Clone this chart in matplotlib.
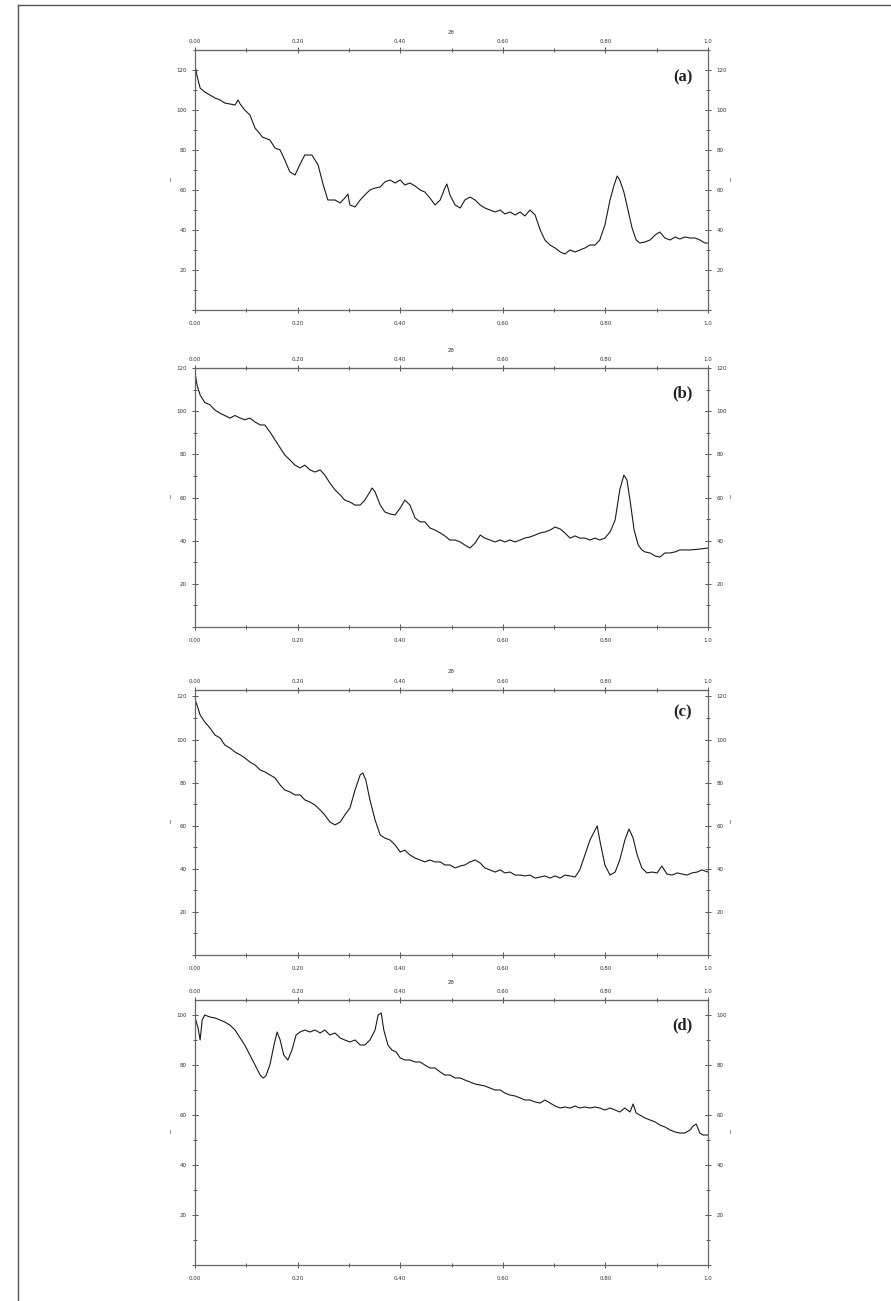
import matplotlib
matplotlib.use('Agg')
import matplotlib.pyplot as plt
from matplotlib.lines import Line2D

# values (x is 0..1, y in counts)
x_a = [0.000, 0.004, 0.010, 0.019, 0.029, 0.039, 0.049, 0.058, 0.068, 0.078, 0.084, 0.088, 0.097,
       0.107, 0.117, 0.127, 0.131, 0.146, 0.156, 0.166, 0.175, 0.185, 0.195, 0.205, 0.214, 0.228,
       0.240, 0.250, 0.259, 0.273, 0.283, 0.292, 0.298, 0.302, 0.312, 0.322, 0.331, 0.341, 0.351,
       0.361, 0.370, 0.380, 0.390, 0.400, 0.409, 0.419, 0.429, 0.439, 0.448, 0.458, 0.468, 0.478,
       0.487, 0.491, 0.497, 0.507, 0.517, 0.526, 0.536, 0.546, 0.556, 0.565, 0.575, 0.585, 0.595,
       0.604, 0.614, 0.624, 0.634, 0.643, 0.653, 0.663, 0.673, 0.682, 0.692, 0.702, 0.712, 0.721,
       0.731, 0.741, 0.750, 0.760, 0.770, 0.780, 0.789, 0.799, 0.809, 0.817, 0.823, 0.828, 0.836,
       0.844, 0.852, 0.860, 0.867, 0.877, 0.887, 0.897, 0.906, 0.916, 0.926, 0.936, 0.945, 0.955,
       0.965, 0.975, 0.984, 0.994, 1.000]
y_a = [122.5, 117, 111, 109, 107.5, 106, 105, 103.5, 103, 102.5, 105, 103, 100,
       97.5, 91, 88, 86.5, 85, 81, 80, 75, 69, 67.5, 73, 77.5, 77.5,
       72.5, 62.5, 55, 55, 53.5, 56, 58, 52.5, 51.5, 55, 57.5, 60, 61,
       61.5, 64, 65, 63.5, 65, 62.5, 63.5, 62, 60, 59, 56, 52.5, 55,
       61, 63, 57.5, 52.5, 51, 55, 56.5, 55, 52.5, 51, 50, 49, 50,
       48, 49, 47.5, 49, 47, 50, 47.5, 40, 35, 32.5, 31, 29, 28,
       30, 29, 30, 31, 32.5, 32.5, 35, 42.5, 55, 62.5, 67, 65, 59,
       50, 41, 35, 33.5, 34, 35, 37.5, 39, 36, 35, 36.5, 35.5, 36.5,
       36, 36, 35, 33.5, 33.5]

x_b = [0.000, 0.004, 0.010, 0.019, 0.029, 0.039, 0.049, 0.058, 0.068, 0.078, 0.088, 0.097, 0.107,
       0.117, 0.127, 0.136, 0.146, 0.156, 0.166, 0.175, 0.185, 0.195, 0.205, 0.214, 0.224, 0.234,
       0.244, 0.253, 0.263, 0.273, 0.283, 0.292, 0.302, 0.312, 0.322, 0.331, 0.341, 0.345, 0.351,
       0.361, 0.370, 0.380, 0.390, 0.400, 0.409, 0.419, 0.429, 0.439, 0.448, 0.458, 0.468, 0.478,
       0.487, 0.497, 0.507, 0.517, 0.526, 0.536, 0.546, 0.556, 0.565, 0.575, 0.585, 0.595, 0.604,
       0.614, 0.624, 0.634, 0.643, 0.653, 0.663, 0.673, 0.682, 0.692, 0.702, 0.712, 0.721, 0.731,
       0.741, 0.750, 0.760, 0.770, 0.780, 0.789, 0.799, 0.809, 0.819, 0.828, 0.836, 0.842, 0.848,
       0.856, 0.864, 0.871, 0.877, 0.887, 0.897, 0.906, 0.916, 0.926, 0.936, 0.945, 0.965, 0.984,
       1.000]
y_b = [118, 112, 107.5, 104, 103, 100.5, 99, 98, 96.8, 98, 96.8, 96, 96.8,
       95, 93.6, 93.6, 90.4, 86.7, 83, 79.7, 77.4, 75, 73.7, 75, 72.8, 71.8,
       72.8, 70.4, 66.7, 63.5, 61.2, 58.8, 57.9, 56.5, 56.5, 58.8, 62.6, 64.4, 62.6,
       56.5, 53.3, 52.4, 51.9, 55.1, 58.8, 56.5, 50.5, 48.7, 48.7, 45.9, 44.9, 43.6,
       42.2, 40.3, 40.3, 39.4, 38, 36.6, 38.9, 42.6, 41.2, 40.3, 39.4, 40.3, 39.4,
       40.3, 39.4, 40.3, 41.2, 41.7, 42.6, 43.6, 44, 44.9, 46.3, 45.4, 43.6, 41.2,
       42.2, 41.2, 41.2, 40.3, 41.2, 40.3, 41.2, 44, 49.6, 63.5, 70.4, 68.1, 58.8,
       44.9, 38, 35.7, 34.8, 34.3, 32.9, 32.4, 34.3, 34.3, 34.8, 35.7, 35.7, 36.1,
       36.6]

x_c = [0.000, 0.004, 0.010, 0.019, 0.029, 0.039, 0.049, 0.058, 0.068, 0.078, 0.088, 0.097, 0.107,
       0.117, 0.127, 0.136, 0.146, 0.156, 0.166, 0.175, 0.185, 0.195, 0.205, 0.214, 0.224, 0.234,
       0.244, 0.253, 0.263, 0.273, 0.283, 0.292, 0.302, 0.312, 0.322, 0.327, 0.333, 0.341, 0.351,
       0.361, 0.370, 0.380, 0.390, 0.400, 0.409, 0.419, 0.429, 0.439, 0.448, 0.458, 0.468, 0.478,
       0.487, 0.497, 0.507, 0.517, 0.526, 0.536, 0.546, 0.556, 0.565, 0.575, 0.585, 0.595, 0.604,
       0.614, 0.624, 0.634, 0.643, 0.653, 0.663, 0.673, 0.682, 0.692, 0.702, 0.712, 0.721, 0.731,
       0.741, 0.750, 0.760, 0.770, 0.784, 0.789, 0.799, 0.809, 0.819, 0.828, 0.838, 0.846, 0.854,
       0.862, 0.871, 0.881, 0.891, 0.901, 0.910, 0.920, 0.930, 0.940, 0.949, 0.959, 0.969, 0.979,
       0.988, 1.000]
y_c = [118.4, 116, 111.4, 108.2, 105.4, 102.1, 100.7, 97.5, 96.1, 94.2, 92.9, 91.5, 89.6,
       88.2, 85.9, 85, 83.6, 82.2, 78.9, 76.6, 75.7, 74.3, 74.3, 72, 71, 69.6,
       67.3, 65, 61.7, 60.4, 61.7, 65, 68.2, 76.6, 83.6, 84.5, 81.2, 72, 62.7,
       55.7, 54.3, 53.4, 51.1, 47.8, 48.7, 46.4, 45, 44.1, 43.2, 44.1, 43.2, 43.2,
       41.8, 41.8, 40.4, 41.3, 41.8, 43.2, 44.1, 42.7, 40.4, 39.5, 38.5, 39.5, 38.1,
       38.5, 37.1, 37.1, 36.7, 37.1, 35.7, 36.2, 36.7, 35.7, 36.7, 35.7, 37.1, 36.7,
       36.2, 39.5, 46.4, 53.4, 59.9, 53.4, 41.8, 37.1, 38.5, 44.1, 53.4, 58.5, 54.3,
       46.4, 40.4, 38.1, 38.5, 38.1, 41.3, 37.6, 37.1, 38.1, 37.6, 37.1, 38.1, 38.5,
       39.5, 38.5]

x_d = [0.000, 0.006, 0.010, 0.014, 0.019, 0.029, 0.039, 0.049, 0.058, 0.068, 0.078, 0.088, 0.097,
       0.107, 0.117, 0.127, 0.133, 0.138, 0.146, 0.154, 0.160, 0.166, 0.173, 0.181, 0.189, 0.197,
       0.205, 0.214, 0.224, 0.234, 0.244, 0.253, 0.263, 0.273, 0.283, 0.292, 0.302, 0.312, 0.322,
       0.331, 0.341, 0.351, 0.357, 0.363, 0.368, 0.376, 0.384, 0.392, 0.400, 0.409, 0.419, 0.429,
       0.439, 0.448, 0.458, 0.468, 0.478, 0.487, 0.497, 0.507, 0.517, 0.526, 0.536, 0.546, 0.556,
       0.565, 0.575, 0.585, 0.595, 0.604, 0.614, 0.624, 0.634, 0.643, 0.653, 0.663, 0.673, 0.682,
       0.692, 0.702, 0.712, 0.721, 0.731, 0.741, 0.750, 0.760, 0.770, 0.780, 0.789, 0.799, 0.809,
       0.819, 0.828, 0.838, 0.848, 0.854, 0.860, 0.867, 0.877, 0.887, 0.897, 0.906, 0.916, 0.926,
       0.936, 0.945, 0.955, 0.965, 0.971, 0.977, 0.984, 0.990, 1.000]
y_d = [99.2, 94.8, 90, 98, 100, 99.2, 98.8, 98, 97.2, 96, 94, 90.8, 88,
       84, 80, 76, 74.8, 75.6, 80, 88, 93.2, 90, 84, 82, 86, 92,
       93.2, 94, 93.2, 94, 92.8, 94, 92, 92.8, 90.8, 90, 89.2, 90, 88,
       88, 90, 94, 100, 100.8, 94, 88, 86, 85.2, 82.8, 82, 82, 81.2,
       81.2, 80, 78.8, 78.8, 77.2, 76, 76, 74.8, 74.8, 74, 73.2, 72.4, 72,
       71.6, 70.8, 70, 70, 68.8, 68, 67.6, 66.8, 66, 66, 65.2, 64.8, 66,
       64.8, 63.6, 62.8, 63.2, 62.8, 63.6, 62.8, 63.2, 62.8, 63.2, 62.8, 62, 62.8,
       62, 61.2, 62.8, 61.2, 64.4, 60.8, 60, 58.8, 58, 57.2, 56, 55.2, 54,
       53.2, 52.8, 52.8, 54, 55.6, 56.4, 52.8, 52, 52]

panel_names = ['(a)', '(b)', '(c)', '(d)']
y_tops = [130, 120, 123, 106]
x_ticks = [0.0, 0.2, 0.4, 0.6, 0.8, 1.0]
x_tick_labels = ['0.00', '0.20', '0.40', '0.60', '0.80', '1.0']

W, H = 891, 1301
# axes boxes in pixels: left, top, right, bottom
boxes = [(195, 50, 708, 310), (195, 368, 708, 627), (195, 690, 708, 955), (195, 1000, 708, 1265)]
label_pos = [0.896, 0.903, 0.917, 0.906]

fig = plt.figure(figsize=(W / 100, H / 100), dpi=100)
tick_col = '#555555'


def make_panel(box, xs, ys, ytop, name, ly):
    l, t, r, b = box
    ax = fig.add_axes([l / W, 1 - b / H, (r - l) / W, (b - t) / H])
    ax.plot(xs, ys, color='#1a1a1a', lw=0.8)
    ax.set_xlim(0, 1)
    ax.set_ylim(0, ytop)
    for s in ax.spines.values():
        s.set_color('#666666')
        s.set_linewidth(0.9)

    ax.set_xticks(x_ticks)
    ax.set_xticklabels(x_tick_labels)
    ax.set_xticks([0.1, 0.3, 0.5, 0.7, 0.9], minor=True)
    yt = list(range(0, ytop + 1, 20))
    ax.set_yticks(yt)
    ax.set_yticklabels([''] + [str(v) for v in yt[1:]])
    ax.set_yticks(list(range(10, ytop + 1, 20)), minor=True)

    ax.tick_params(which='both', direction='inout', colors=tick_col, labelcolor='#333333',
                   labelsize=4, width=0.7, right=True, labelright=True, top=False)
    ax.tick_params(which='major', length=4)
    ax.tick_params(which='minor', length=2.5)
    ax.tick_params(axis='x', pad=6)
    ax.tick_params(axis='y', pad=4)

    top = ax.secondary_xaxis('top')
    top.set_xticks(x_ticks)
    top.set_xticklabels(x_tick_labels)
    top.set_xticks([0.1, 0.3, 0.5, 0.7, 0.9], minor=True)
    top.tick_params(which='both', direction='inout', colors=tick_col, labelcolor='#333333',
                    labelsize=4, width=0.7, pad=2)
    top.tick_params(which='major', length=4)
    top.tick_params(which='minor', length=2.5)
    top.spines['top'].set_color('#666666')

    ax.text(0.5, 1 + 18 / (b - t), '2θ', transform=ax.transAxes, ha='center', va='center',
            fontsize=4, color='#333333')
    ax.text(-25 / (r - l), 0.5, 'I', transform=ax.transAxes, ha='center', va='center',
            fontsize=4, color='#333333')
    ax.text(1 + 22 / (r - l), 0.5, 'I', transform=ax.transAxes, ha='center', va='center',
            fontsize=4, color='#333333')
    ax.text(0.951, ly, name, transform=ax.transAxes, ha='center', va='center',
            fontsize=12, fontweight='bold', family='Liberation Serif', color='#222222')
    return ax


all_x = [x_a, x_b, x_c, x_d]
all_y = [y_a, y_b, y_c, y_d]
for i in range(4):
    make_panel(boxes[i], all_x[i], all_y[i], y_tops[i], panel_names[i], label_pos[i])

# page frame (top and left rules)
fig.add_artist(Line2D([18 / W, 1], [1 - 5 / H, 1 - 5 / H], color='#555555', lw=1))
fig.add_artist(Line2D([18 / W, 18 / W], [0, 1 - 5 / H], color='#555555', lw=1))

fig.savefig('out.png', dpi=100)
